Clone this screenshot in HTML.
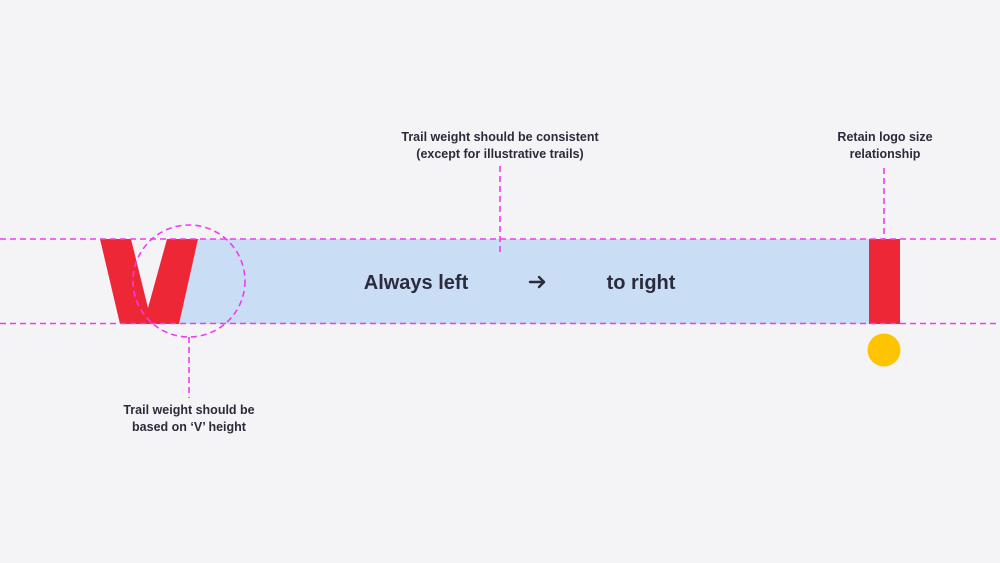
<!DOCTYPE html>
<html><head><meta charset="utf-8"><style>
html,body{margin:0;padding:0;background:#f4f4f6;}
svg{display:block}
text{font-family:"Liberation Sans",sans-serif;font-weight:bold;fill:#2b2b3c}
</style></head><body>
<svg width="1000" height="563" viewBox="0 0 1000 563">
<rect width="1000" height="563" fill="#f4f4f6"/>
<polygon points="180,239 870,239 870,324 178,324" fill="#c9ddf5"/>
<polygon points="100,239 131,239 148,308 167,239 198,239 179,324 120,324" fill="#ee2737"/>
<rect x="869" y="239" width="31" height="85" fill="#ee2737"/>
<circle cx="884" cy="350" r="16.5" fill="#ffc400"/>
<g stroke="#f03cf0" stroke-width="1.6" stroke-dasharray="6,4" fill="none">
<line x1="0" y1="239" x2="1000" y2="239"/>
<line x1="0" y1="323.5" x2="1000" y2="323.5"/>
<line x1="500" y1="166" x2="500" y2="252"/>
<line x1="884" y1="168" x2="884" y2="239"/>
<line x1="189" y1="337" x2="189" y2="398"/>
<circle cx="189" cy="281" r="56"/>
</g>
<g stroke="#2b2b3c" stroke-width="2.4" fill="none" stroke-linecap="round" stroke-linejoin="round">
<line x1="530" y1="282" x2="544" y2="282"/>
<polyline points="539,277 544,282 539,287"/>
</g>
<text x="500" y="141" font-size="12.5" text-anchor="middle">Trail weight should be consistent</text>
<text x="500" y="158" font-size="12.5" text-anchor="middle">(except for illustrative trails)</text>
<text x="885" y="141" font-size="12.5" text-anchor="middle">Retain logo size</text>
<text x="885" y="158" font-size="12.5" text-anchor="middle">relationship</text>
<text x="189" y="414" font-size="12.5" text-anchor="middle">Trail weight should be</text>
<text x="189" y="431" font-size="12.5" text-anchor="middle">based on ‘V’ height</text>
<text x="416" y="289" font-size="20" text-anchor="middle">Always left</text>
<text x="641" y="289" font-size="20" text-anchor="middle">to right</text>
</svg>
</body></html>
